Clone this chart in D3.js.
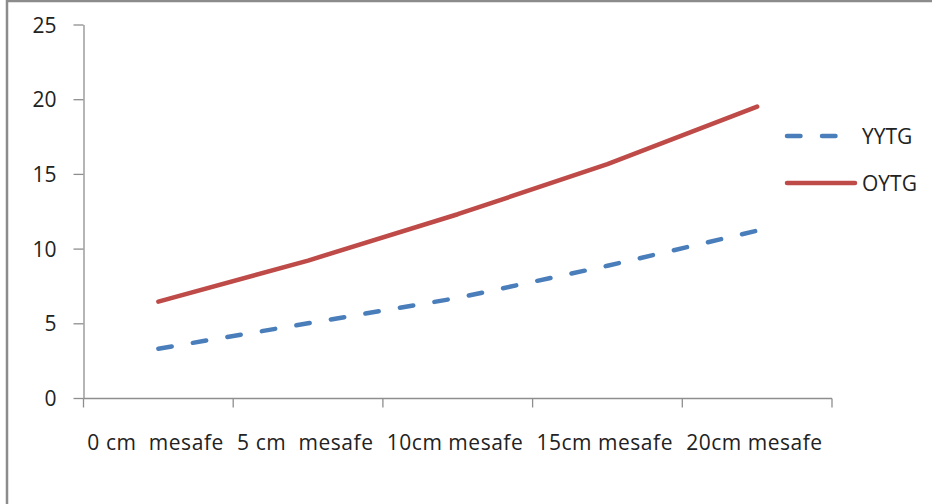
<!DOCTYPE html>
<html>
<head>
<meta charset="utf-8">
<script src="https://cdn.jsdelivr.net/npm/d3@7"></script>
<style>
  html, body { margin: 0; padding: 0; background: #fff; }
  svg { display: block; }
  text { font-family: "Open Sans", "Noto Sans", sans-serif; fill: #222; }
</style>
</head>
<body>
<script>
// Category labels along the x axis
const categories = ["0 cm  mesafe", "5 cm  mesafe", "10cm mesafe", "15cm mesafe", "20cm mesafe"];
// Series values
const yytg = [3.3, 5.0, 6.7, 8.85, 11.2];
const oytg = [6.45, 9.2, 12.3, 15.65, 19.5];
const seriesNames = ["YYTG", "OYTG"];
const yTicks = [0, 5, 10, 15, 20, 25];

const W = 932, H = 504;
const svg = d3.select("body").append("svg").attr("width", W).attr("height", H);

// Outer frame (only top and left edges fall inside the view)
svg.append("rect")
  .attr("x", 7).attr("y", 1).attr("width", W + 20).attr("height", H + 20)
  .attr("fill", "#fff").attr("stroke", "#8c8c8c").attr("stroke-width", 2.5);

const x = d3.scaleBand().domain(categories).range([83.5, 832]);
const y = d3.scaleLinear().domain([0, 25]).range([398, 24.5]);

const axisColor = "#8e8e8e";

// Y axis
const yAxis = svg.append("g").attr("transform", "translate(83.5,0)")
  .call(d3.axisLeft(y).tickValues(yTicks).tickSize(10).tickPadding(17).tickSizeOuter(0));
yAxis.select(".domain").attr("stroke", axisColor).attr("stroke-width", 1.3);
yAxis.selectAll(".tick line").attr("stroke", axisColor).attr("stroke-width", 1.3);
yAxis.selectAll(".tick text").attr("font-size", 21).attr("fill", "#222")
  .attr("font-family", "'Open Sans', sans-serif").attr("dy", "0.36em");

// X axis with ticks on the band boundaries
const xAxisG = svg.append("g").attr("transform", "translate(0,398.5)");
xAxisG.append("line").attr("x1", x.range()[0]).attr("x2", x.range()[1])
  .attr("stroke", axisColor).attr("stroke-width", 1.3);
const bounds = categories.map(c => x(c)).concat([x.range()[1]]);
xAxisG.selectAll("line.tk").data(bounds).enter().append("line")
  .attr("class", "tk")
  .attr("x1", d => d).attr("x2", d => d).attr("y1", 0).attr("y2", 9)
  .attr("stroke", axisColor).attr("stroke-width", 1.3);
xAxisG.selectAll("text").data(categories).enter().append("text")
  .attr("x", d => x(d) + x.bandwidth() / 2 - 3)
  .attr("y", 51.5)
  .attr("text-anchor", "middle")
  .attr("font-size", 21)
  .attr("textLength", 136)
  .attr("lengthAdjust", "spacing")
  .style("white-space", "pre")
  .text(d => d);

const cx = d => x(d) + x.bandwidth() / 2;
const line = d3.line()
  .x((d, i) => cx(categories[i]))
  .y(d => y(d));

// YYTG dashed blue line
svg.append("path").datum(yytg)
  .attr("d", line).attr("fill", "none")
  .attr("stroke", "#4a7ebb").attr("stroke-width", 4.5)
  .attr("stroke-linecap", "round").attr("stroke-linejoin", "round")
  .attr("stroke-dasharray", "13.5,21.5");

// OYTG solid red line
svg.append("path").datum(oytg)
  .attr("d", line).attr("fill", "none")
  .attr("stroke", "#be4b48").attr("stroke-width", 4.5)
  .attr("stroke-linecap", "round").attr("stroke-linejoin", "round");

// Legend
const legend = svg.append("g");
legend.append("line").attr("x1", 787).attr("x2", 855).attr("y1", 136).attr("y2", 136)
  .attr("stroke", "#4a7ebb").attr("stroke-width", 4.5).attr("stroke-linecap", "round")
  .attr("stroke-dasharray", "13.5,21.5");
legend.append("line").attr("x1", 787).attr("x2", 855).attr("y1", 183).attr("y2", 183)
  .attr("stroke", "#be4b48").attr("stroke-width", 4.5).attr("stroke-linecap", "round");
legend.selectAll("text").data(seriesNames).enter().append("text")
  .attr("x", 862).attr("y", (d, i) => 144 + i * 47)
  .attr("font-size", 21)
  .text(d => d);
</script>
</body>
</html>
